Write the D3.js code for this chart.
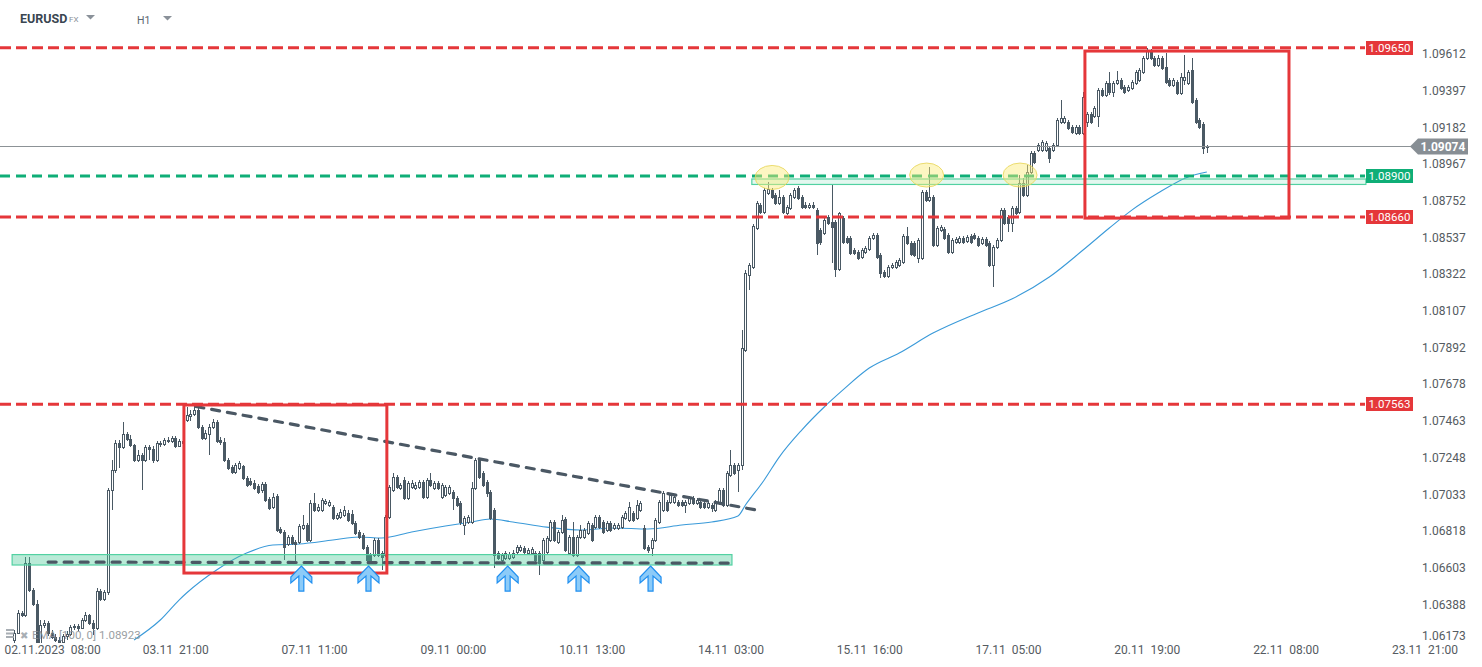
<!DOCTYPE html>
<html>
<head>
<meta charset="utf-8">
<script src="https://cdnjs.cloudflare.com/ajax/libs/d3/7.8.5/d3.min.js"></script>
<style>
  html, body { margin: 0; padding: 0; background: #fff; }
  svg { display: block; font-family: Roboto, "Noto Sans", sans-serif; }
</style>
</head>
<body>
<div id="chart"></div>
<script>
// EURUSD H1 candles, one value per hour
const opens = [
  1.06183, 1.06223, 1.06341, 1.06330, 1.06633, 1.06476, 1.06394, 1.06154, 1.06271, 1.06282,
  1.06223, 1.06200, 1.06183, 1.06171, 1.06206, 1.06218, 1.06259, 1.06265, 1.06253, 1.06300,
  1.06330, 1.06282, 1.06253, 1.06470, 1.06423, 1.06464, 1.07061, 1.07178, 1.07336, 1.07313,
  1.07389, 1.07360, 1.07325, 1.07237, 1.07266, 1.07237, 1.07313, 1.07301, 1.07237, 1.07336,
  1.07331, 1.07354, 1.07348, 1.07365, 1.07319, 1.07348, 1.07471, 1.07495, 1.07507, 1.07530,
  1.07430, 1.07365, 1.07389, 1.07430, 1.07459, 1.07354, 1.07342, 1.07237, 1.07196, 1.07166,
  1.07190, 1.07202, 1.07131, 1.07114, 1.07103, 1.07085, 1.07061, 1.07097, 1.07008, 1.06962,
  1.07026, 1.06833, 1.06815, 1.06745, 1.06786, 1.06757, 1.06757, 1.06839, 1.06856, 1.06768,
  1.06985, 1.06944, 1.06944, 1.06985, 1.06973, 1.06962, 1.06897, 1.06903, 1.06915, 1.06926,
  1.06921, 1.06868, 1.06815, 1.06798, 1.06727, 1.06680, 1.06680, 1.06768, 1.06692, 1.06680,
  1.06903, 1.07061, 1.07137, 1.07073, 1.07120, 1.07014, 1.07079, 1.07073, 1.07079, 1.07108,
  1.07020, 1.07120, 1.07073, 1.07103, 1.07020, 1.07032, 1.07044, 1.07049, 1.07014, 1.06985,
  1.06856, 1.06874, 1.06874, 1.07073, 1.07237, 1.07160, 1.07108, 1.07049, 1.06944, 1.06692,
  1.06651, 1.06663, 1.06663, 1.06669, 1.06698, 1.06710, 1.06721, 1.06692, 1.06692, 1.06692,
  1.06692, 1.06651, 1.06698, 1.06768, 1.06874, 1.06757, 1.06815, 1.06891, 1.06692, 1.06786,
  1.06680, 1.06786, 1.06786, 1.06809, 1.06856, 1.06845, 1.06903, 1.06874, 1.06827, 1.06868,
  1.06839, 1.06839, 1.06845, 1.06897, 1.06886, 1.06926, 1.06897, 1.06944, 1.06839, 1.06727,
  1.06721, 1.06768, 1.06874, 1.06944, 1.06991, 1.06991, 1.06991, 1.06991, 1.06991, 1.06973,
  1.06985, 1.07014, 1.06985, 1.06991, 1.06985, 1.06962, 1.06973, 1.06944, 1.06985, 1.07061,
  1.06973, 1.07149, 1.07208, 1.07178, 1.07208, 1.07881, 1.08320, 1.08367, 1.08595, 1.08730,
  1.08688, 1.08800, 1.08818, 1.08789, 1.08741, 1.08777, 1.08683, 1.08712, 1.08777, 1.08829,
  1.08777, 1.08730, 1.08718, 1.08730, 1.08700, 1.08583, 1.08565, 1.08659, 1.08630, 1.08630,
  1.08355, 1.08653, 1.08536, 1.08536, 1.08466, 1.08454, 1.08425, 1.08454, 1.08472, 1.08536,
  1.08554, 1.08437, 1.08337, 1.08314, 1.08367, 1.08367, 1.08379, 1.08396, 1.08548, 1.08507,
  1.08507, 1.08419, 1.08419, 1.08806, 1.08759, 1.08777, 1.08496, 1.08583, 1.08589, 1.08554,
  1.08454, 1.08513, 1.08513, 1.08536, 1.08519, 1.08548, 1.08554, 1.08536, 1.08507, 1.08531,
  1.08507, 1.08379, 1.08484, 1.08525, 1.08700, 1.08659, 1.08624, 1.08712, 1.08688, 1.08858,
  1.08789, 1.08923, 1.09034, 1.09052, 1.09052, 1.09052, 1.09063, 1.09052, 1.09081, 1.09215,
  1.09215, 1.09215, 1.09186, 1.09151, 1.09186, 1.09151, 1.09215, 1.09262, 1.09251, 1.09251,
  1.09403, 1.09374, 1.09444, 1.09391, 1.09444, 1.09462, 1.09421, 1.09403, 1.09415, 1.09444,
  1.09462, 1.09508, 1.09590, 1.09631, 1.09590, 1.09549, 1.09590, 1.09538, 1.09462, 1.09432,
  1.09450, 1.09386, 1.09462, 1.09444, 1.09520, 1.09345, 1.09227, 1.09204, 1.09069
];

const highs = [
  1.06241, 1.06359, 1.06353, 1.06669, 1.06669, 1.06487, 1.06417, 1.06300, 1.06300, 1.06294,
  1.06241, 1.06218, 1.06200, 1.06218, 1.06235, 1.06271, 1.06277, 1.06277, 1.06312, 1.06347,
  1.06335, 1.06300, 1.06487, 1.06481, 1.06476, 1.07073, 1.07237, 1.07354, 1.07354, 1.07459,
  1.07400, 1.07383, 1.07331, 1.07295, 1.07277, 1.07325, 1.07325, 1.07319, 1.07348, 1.07348,
  1.07365, 1.07371, 1.07377, 1.07377, 1.07360, 1.07365, 1.07547, 1.07530, 1.07553, 1.07553,
  1.07442, 1.07412, 1.07448, 1.07477, 1.07471, 1.07371, 1.07365, 1.07248, 1.07208, 1.07219,
  1.07231, 1.07208, 1.07143, 1.07131, 1.07120, 1.07097, 1.07108, 1.07108, 1.07020, 1.07044,
  1.07038, 1.06845, 1.06827, 1.06798, 1.06798, 1.06768, 1.06862, 1.06915, 1.06868, 1.07003,
  1.07044, 1.06979, 1.07014, 1.07008, 1.07003, 1.06973, 1.06926, 1.06950, 1.06968, 1.06944,
  1.06944, 1.06880, 1.06827, 1.06809, 1.06739, 1.06692, 1.06780, 1.06780, 1.06704, 1.06915,
  1.07091, 1.07160, 1.07149, 1.07103, 1.07137, 1.07114, 1.07120, 1.07108, 1.07120, 1.07120,
  1.07131, 1.07160, 1.07114, 1.07114, 1.07103, 1.07091, 1.07091, 1.07061, 1.07026, 1.06997,
  1.06909, 1.06915, 1.07108, 1.07248, 1.07248, 1.07172, 1.07120, 1.07061, 1.06956, 1.06704,
  1.06692, 1.06704, 1.06698, 1.06710, 1.06739, 1.06739, 1.06733, 1.06721, 1.06727, 1.06704,
  1.06704, 1.06780, 1.06792, 1.06886, 1.06886, 1.06827, 1.06915, 1.06903, 1.06798, 1.06874,
  1.06798, 1.06856, 1.06839, 1.06880, 1.06868, 1.06915, 1.06915, 1.06886, 1.06880, 1.06880,
  1.06868, 1.06868, 1.06915, 1.06938, 1.06991, 1.06938, 1.07003, 1.06997, 1.06856, 1.06739,
  1.06780, 1.06897, 1.07003, 1.07055, 1.07003, 1.07044, 1.07032, 1.07003, 1.07003, 1.07003,
  1.07026, 1.07026, 1.07014, 1.07003, 1.06997, 1.06997, 1.06985, 1.07003, 1.07073, 1.07073,
  1.07172, 1.07295, 1.07219, 1.07219, 1.07998, 1.08349, 1.08390, 1.08619, 1.08753, 1.08741,
  1.08829, 1.08864, 1.08829, 1.08800, 1.08818, 1.08789, 1.08730, 1.08800, 1.08829, 1.08841,
  1.08789, 1.08747, 1.08741, 1.08747, 1.08712, 1.08595, 1.08653, 1.08671, 1.08847, 1.08642,
  1.08688, 1.08665, 1.08548, 1.08548, 1.08478, 1.08466, 1.08478, 1.08490, 1.08548, 1.08565,
  1.08565, 1.08449, 1.08349, 1.08379, 1.08390, 1.08408, 1.08420, 1.08560, 1.08601, 1.08519,
  1.08519, 1.08536, 1.08818, 1.08818, 1.08952, 1.08789, 1.08607, 1.08613, 1.08601, 1.08565,
  1.08536, 1.08542, 1.08548, 1.08548, 1.08554, 1.08560, 1.08565, 1.08548, 1.08542, 1.08542,
  1.08519, 1.08496, 1.08536, 1.08712, 1.08712, 1.08671, 1.08724, 1.08724, 1.08906, 1.08888,
  1.08964, 1.09046, 1.09046, 1.09093, 1.09110, 1.09104, 1.09075, 1.09093, 1.09239, 1.09345,
  1.09251, 1.09227, 1.09198, 1.09198, 1.09198, 1.09391, 1.09274, 1.09274, 1.09309, 1.09415,
  1.09415, 1.09456, 1.09508, 1.09456, 1.09514, 1.09473, 1.09432, 1.09432, 1.09462, 1.09520,
  1.09532, 1.09602, 1.09649, 1.09643, 1.09602, 1.09608, 1.09602, 1.09620, 1.09473, 1.09473,
  1.09462, 1.09502, 1.09608, 1.09520, 1.09590, 1.09356, 1.09239, 1.09215, 1.09081
];

const lows = [
  1.06154, 1.06218, 1.06318, 1.06318, 1.06464, 1.06382, 1.06136, 1.06148, 1.06253, 1.06206,
  1.06188, 1.06171, 1.06148, 1.06154, 1.06183, 1.06206, 1.06241, 1.06235, 1.06247, 1.06288,
  1.06271, 1.06212, 1.06241, 1.06411, 1.06411, 1.06447, 1.06944, 1.07160, 1.07190, 1.07301,
  1.07348, 1.07313, 1.07225, 1.07225, 1.07061, 1.07225, 1.07237, 1.07219, 1.07225, 1.07313,
  1.07319, 1.07336, 1.07336, 1.07307, 1.07313, 1.07325, 1.07459, 1.07465, 1.07495, 1.07418,
  1.07354, 1.07354, 1.07266, 1.07418, 1.07336, 1.07325, 1.07225, 1.07178, 1.07155, 1.07155,
  1.07178, 1.07120, 1.07079, 1.07085, 1.07061, 1.07038, 1.07044, 1.06991, 1.06944, 1.06950,
  1.06815, 1.06804, 1.06651, 1.06733, 1.06739, 1.06639, 1.06745, 1.06827, 1.06757, 1.06757,
  1.06932, 1.06932, 1.06932, 1.06973, 1.06962, 1.06886, 1.06886, 1.06891, 1.06903, 1.06874,
  1.06856, 1.06798, 1.06774, 1.06710, 1.06639, 1.06633, 1.06669, 1.06669, 1.06593, 1.06669,
  1.06891, 1.07049, 1.07067, 1.07061, 1.07003, 1.07003, 1.07067, 1.07061, 1.07067, 1.07008,
  1.07008, 1.07079, 1.07061, 1.07061, 1.07008, 1.07020, 1.07032, 1.06944, 1.06962, 1.06856,
  1.06798, 1.06862, 1.06862, 1.07061, 1.07125, 1.07079, 1.07020, 1.06886, 1.06604, 1.06651,
  1.06639, 1.06651, 1.06651, 1.06657, 1.06686, 1.06698, 1.06686, 1.06680, 1.06680, 1.06639,
  1.06563, 1.06639, 1.06686, 1.06757, 1.06757, 1.06745, 1.06804, 1.06698, 1.06680, 1.06669,
  1.06669, 1.06774, 1.06774, 1.06798, 1.06757, 1.06833, 1.06833, 1.06804, 1.06815, 1.06815,
  1.06827, 1.06827, 1.06833, 1.06886, 1.06874, 1.06874, 1.06886, 1.06932, 1.06710, 1.06692,
  1.06674, 1.06757, 1.06862, 1.06932, 1.06932, 1.06979, 1.06979, 1.06962, 1.06962, 1.06926,
  1.06973, 1.06973, 1.06973, 1.06950, 1.06950, 1.06950, 1.06932, 1.06932, 1.06973, 1.06962,
  1.06962, 1.07137, 1.07149, 1.07049, 1.07178, 1.07869, 1.08232, 1.08355, 1.08583, 1.08677,
  1.08677, 1.08789, 1.08765, 1.08730, 1.08730, 1.08677, 1.08671, 1.08700, 1.08765, 1.08759,
  1.08706, 1.08706, 1.08706, 1.08706, 1.08437, 1.08496, 1.08554, 1.08613, 1.08390, 1.08308,
  1.08343, 1.08501, 1.08501, 1.08437, 1.08437, 1.08408, 1.08414, 1.08443, 1.08460, 1.08525,
  1.08414, 1.08302, 1.08302, 1.08302, 1.08355, 1.08355, 1.08367, 1.08385, 1.08496, 1.08431,
  1.08425, 1.08390, 1.08408, 1.08747, 1.08747, 1.08484, 1.08484, 1.08572, 1.08525, 1.08443,
  1.08443, 1.08501, 1.08501, 1.08501, 1.08507, 1.08501, 1.08525, 1.08484, 1.08496, 1.08484,
  1.08367, 1.08250, 1.08472, 1.08513, 1.08613, 1.08572, 1.08572, 1.08671, 1.08677, 1.08777,
  1.08777, 1.08911, 1.08970, 1.09040, 1.09040, 1.09040, 1.08975, 1.09040, 1.09069, 1.09204,
  1.09204, 1.09169, 1.09145, 1.09139, 1.09139, 1.09139, 1.09186, 1.09204, 1.09239, 1.09186,
  1.09362, 1.09362, 1.09374, 1.09362, 1.09432, 1.09403, 1.09380, 1.09391, 1.09403, 1.09432,
  1.09450, 1.09497, 1.09579, 1.09579, 1.09538, 1.09538, 1.09520, 1.09439, 1.09421, 1.09421,
  1.09374, 1.09374, 1.09432, 1.09432, 1.09321, 1.09204, 1.09174, 1.09029, 1.09034
];

const closes = [
  1.06223, 1.06341, 1.06330, 1.06633, 1.06476, 1.06394, 1.06154, 1.06271, 1.06282, 1.06223,
  1.06200, 1.06183, 1.06171, 1.06206, 1.06218, 1.06259, 1.06265, 1.06253, 1.06300, 1.06330,
  1.06282, 1.06253, 1.06470, 1.06423, 1.06464, 1.07061, 1.07178, 1.07336, 1.07313, 1.07389,
  1.07360, 1.07325, 1.07237, 1.07266, 1.07237, 1.07313, 1.07301, 1.07237, 1.07336, 1.07331,
  1.07354, 1.07348, 1.07365, 1.07319, 1.07348, 1.07336, 1.07501, 1.07507, 1.07530, 1.07430,
  1.07365, 1.07394, 1.07430, 1.07459, 1.07348, 1.07342, 1.07237, 1.07190, 1.07166, 1.07208,
  1.07219, 1.07131, 1.07091, 1.07097, 1.07073, 1.07049, 1.07097, 1.07003, 1.06956, 1.07020,
  1.06827, 1.06815, 1.06727, 1.06786, 1.06751, 1.06745, 1.06851, 1.06856, 1.06768, 1.06985,
  1.06944, 1.06962, 1.07003, 1.06997, 1.06991, 1.06897, 1.06915, 1.06932, 1.06944, 1.06886,
  1.06868, 1.06809, 1.06786, 1.06721, 1.06651, 1.06639, 1.06768, 1.06680, 1.06669, 1.06903,
  1.07079, 1.07137, 1.07079, 1.07091, 1.07014, 1.07103, 1.07103, 1.07091, 1.07108, 1.07020,
  1.07120, 1.07091, 1.07103, 1.07073, 1.07091, 1.07079, 1.07079, 1.07014, 1.06973, 1.06874,
  1.06897, 1.06903, 1.07073, 1.07237, 1.07137, 1.07091, 1.07044, 1.06897, 1.06680, 1.06663,
  1.06680, 1.06692, 1.06686, 1.06692, 1.06727, 1.06727, 1.06698, 1.06710, 1.06716, 1.06651,
  1.06633, 1.06768, 1.06780, 1.06874, 1.06768, 1.06815, 1.06886, 1.06710, 1.06786, 1.06680,
  1.06786, 1.06827, 1.06827, 1.06868, 1.06768, 1.06903, 1.06845, 1.06815, 1.06868, 1.06827,
  1.06856, 1.06856, 1.06903, 1.06926, 1.06962, 1.06886, 1.06973, 1.06985, 1.06721, 1.06710,
  1.06768, 1.06886, 1.06991, 1.07044, 1.06944, 1.07032, 1.07020, 1.06973, 1.06973, 1.06991,
  1.07014, 1.06985, 1.07003, 1.06962, 1.06962, 1.06985, 1.06956, 1.06991, 1.07061, 1.06973,
  1.07160, 1.07208, 1.07160, 1.07208, 1.07893, 1.08331, 1.08379, 1.08607, 1.08741, 1.08688,
  1.08818, 1.08823, 1.08777, 1.08741, 1.08777, 1.08688, 1.08718, 1.08789, 1.08818, 1.08771,
  1.08718, 1.08718, 1.08730, 1.08718, 1.08507, 1.08513, 1.08642, 1.08624, 1.08601, 1.08355,
  1.08683, 1.08513, 1.08513, 1.08449, 1.08449, 1.08419, 1.08466, 1.08478, 1.08536, 1.08554,
  1.08425, 1.08331, 1.08314, 1.08367, 1.08379, 1.08396, 1.08408, 1.08548, 1.08507, 1.08443,
  1.08437, 1.08525, 1.08806, 1.08759, 1.08777, 1.08496, 1.08595, 1.08601, 1.08536, 1.08454,
  1.08525, 1.08531, 1.08536, 1.08513, 1.08542, 1.08513, 1.08536, 1.08496, 1.08531, 1.08496,
  1.08379, 1.08484, 1.08525, 1.08700, 1.08624, 1.08624, 1.08712, 1.08683, 1.08858, 1.08789,
  1.08923, 1.09034, 1.08981, 1.09081, 1.09098, 1.09093, 1.09005, 1.09081, 1.09227, 1.09239,
  1.09239, 1.09180, 1.09157, 1.09186, 1.09151, 1.09362, 1.09262, 1.09215, 1.09298, 1.09403,
  1.09374, 1.09444, 1.09391, 1.09444, 1.09462, 1.09415, 1.09391, 1.09421, 1.09450, 1.09508,
  1.09520, 1.09590, 1.09637, 1.09590, 1.09549, 1.09590, 1.09532, 1.09450, 1.09432, 1.09462,
  1.09386, 1.09479, 1.09479, 1.09508, 1.09333, 1.09215, 1.09186, 1.09063, 1.09074
];

// EMA(100) as drawn, sampled at candle indices
const emaIndex = [32, 39, 44, 46, 54, 62, 69, 76, 85, 92, 98, 106, 115, 122, 127, 133, 142, 151, 160, 169,
  178, 186, 193, 195, 200, 204, 210, 216, 221, 228, 236, 245, 257, 266, 276, 285, 292, 298, 305, 313, 318];
const emaValues = [1.06183, 1.06300, 1.06417, 1.06458, 1.06593, 1.06692, 1.06739, 1.06745, 1.06768, 1.06786,
  1.06780, 1.06815, 1.06850, 1.06874, 1.06891, 1.06874, 1.06844, 1.06827, 1.06839, 1.06833,
  1.06856, 1.06874, 1.06909, 1.06973, 1.07120, 1.07254, 1.07412, 1.07547, 1.07647, 1.07775,
  1.07863, 1.07980, 1.08098, 1.08179, 1.08308, 1.08466, 1.08595, 1.08700, 1.08800, 1.08894, 1.08923];

const priceTicks = [1.06173, 1.06388, 1.06603, 1.06818, 1.07033, 1.07248, 1.07463, 1.07678, 1.07892,
  1.08107, 1.08322, 1.08537, 1.08752, 1.08967, 1.09182, 1.09397, 1.09612];

const timeTickIndex = [6, 43, 80, 117, 154, 191, 228, 265, 302, 339, 376];
const timeTickLabels = ['02.11.2023  08:00', '03.11  21:00', '07.11  11:00', '09.11  00:00', '10.11  13:00',
  '14.11  03:00', '15.11  16:00', '17.11  05:00', '20.11  19:00', '22.11  08:00', '23.11  21:00'];

// drawn annotations, in candle index / price units
const redLevels = [1.09650, 1.08660, 1.07563];
const greenLevel = 1.08900;
const redBoxStart = [45.3, 285.5];
const redBoxEnd = [99.4, 339.9];
const redBoxTop = [1.07559, 1.09631];
const redBoxBottom = [1.06575, 1.08653];
const zoneStart = [-0.5, 196.7];
const zoneEnd = [191.4, 360.4];
const zoneTop = [1.06683, 1.08882];
const zoneBottom = [1.06622, 1.08850];
const trendFrom = [[48.5, 1.07550], [9.1, 1.06639]];
const trendTo = [[198.9, 1.06940], [191.4, 1.06633]];
const touchIndex = [202.1, 243.3, 268.2];
const touchPrice = [1.08891, 1.08905, 1.08905];
const arrowIndex = [76.6, 94.5, 131.6, 150.5, 169.7];
const arrowPrice = 1.06616;


class CandleChart {
  constructor(container) {
    this.containerEl = d3.select(container);
    this.width = 1482;
    this.height = 667;
    this.plotRight = 1412;
    this.plotBottom = 643;
    this.candleColor = '#4a5964';
    this.red = '#e5373a';
    this.green = '#0fae77';
  }

  load() {
    this.createSvg();
    this.createScales();
    this.drawAxes();
    this.drawEma();
    this.drawCandles();
    this.drawLevels();
    this.drawAnnotations();
    this.drawTags();
    this.drawHeader();
  }

  createSvg() {
    this.svgEl = this.containerEl.append('svg')
      .attr('width', this.width)
      .attr('height', this.height);

    this.svgEl.append('defs').append('clipPath')
      .attr('id', 'plot-clip')
      .append('rect')
      .attr('x', 0).attr('y', 0)
      .attr('width', this.plotRight)
      .attr('height', this.plotBottom);

    this.plotEl = this.svgEl.append('g').attr('clip-path', 'url(#plot-clip)');
  }

  createScales() {
    this.x = d3.scaleLinear().domain([0, 376]).range([14, 1424.4]);
    this.y = d3.scaleLinear().domain([1.06173, 1.09612]).range([641.7, 54.3]);
  }

  drawAxes() {
    const priceAxis = d3.axisRight(this.y)
      .tickValues(priceTicks)
      .tickFormat(d3.format('.5f'))
      .tickSize(0)
      .tickPadding(3);

    const priceAxisEl = this.svgEl.append('g')
      .attr('transform', 'translate(1419,0)')
      .call(priceAxis);
    priceAxisEl.select('.domain').remove();
    priceAxisEl.selectAll('.tick')
      .attr('transform', d => `translate(0,${Math.min(this.y(d), 636)})`);
    this.styleAxisText(priceAxisEl);

    const timeAxis = d3.axisBottom(this.x)
      .tickValues(timeTickIndex)
      .tickFormat((d, i) => timeTickLabels[i])
      .tickSize(0)
      .tickPadding(3.5);

    const timeAxisEl = this.svgEl.append('g')
      .attr('transform', `translate(0,${this.plotBottom - 1})`)
      .call(timeAxis);
    timeAxisEl.select('.domain').remove();
    this.styleAxisText(timeAxisEl);
    timeAxisEl.selectAll('text')
      .style('white-space', 'pre')
      .each((d, i, nodes) => {
        // the first label is pushed inside the window
        const w = nodes[i].getComputedTextLength();
        const left = this.x(d) - w / 2;
        if (left < 4) d3.select(nodes[i]).attr('x', 4 - left);
      });
  }

  styleAxisText(axisEl) {
    axisEl.selectAll('text')
      .attr('fill', '#555b61')
      .attr('font-size', 12)
      .attr('font-family', 'Roboto, sans-serif');
  }

  drawEma() {
    const line = d3.line()
      .x((d, i) => this.x(emaIndex[i]))
      .y(d => this.y(d))
      .curve(d3.curveMonotoneX);

    this.plotEl.append('path')
      .attr('d', line(emaValues))
      .attr('fill', 'none')
      .attr('stroke', '#3a9ad9')
      .attr('stroke-width', 1.1);

    const legend = this.svgEl.append('g').attr('opacity', 0.85);
    [629, 632.5, 636].forEach(yy => {
      legend.append('rect')
        .attr('x', 6).attr('y', yy)
        .attr('width', 8).attr('height', 2)
        .attr('fill', '#9aa1a7');
    });
    legend.append('text')
      .text('✖')
      .attr('x', 20).attr('y', 639)
      .attr('font-size', 10)
      .attr('fill', '#9aa1a7');
    legend.append('text')
      .text('EMA [100, 0] 1.08923')
      .attr('x', 32).attr('y', 639)
      .attr('font-size', 11.5)
      .attr('fill', '#8a8f94');
  }

  drawCandles() {
    const candles = closes.map((c, i) => ({ i, o: opens[i], h: highs[i], l: lows[i], c }));

    const groups = this.plotEl.append('g').selectAll('g.candle')
      .data(candles)
      .enter()
      .append('g')
      .classed('candle', true);

    groups.append('line')
      .attr('x1', d => Math.round(this.x(d.i)) + 0.5)
      .attr('x2', d => Math.round(this.x(d.i)) + 0.5)
      .attr('y1', d => Math.round(this.y(d.h)))
      .attr('y2', d => Math.round(this.y(d.l)))
      .attr('stroke', this.candleColor)
      .attr('stroke-width', 1);

    groups.append('rect')
      .attr('x', d => Math.round(this.x(d.i)) - 0.5)
      .attr('width', 2)
      .attr('y', d => Math.round(this.y(Math.max(d.o, d.c))) + 0.5)
      .attr('height', d => Math.max(1,
        Math.round(this.y(Math.min(d.o, d.c))) - Math.round(this.y(Math.max(d.o, d.c)))))
      .attr('fill', d => d.c >= d.o ? '#ffffff' : this.candleColor)
      .attr('stroke', this.candleColor)
      .attr('stroke-width', 1);
  }

  drawLevels() {
    const levelsEl = this.svgEl.append('g');

    levelsEl.append('line')
      .attr('x1', 0).attr('x2', 1411)
      .attr('y1', Math.round(this.y(closes[closes.length - 1])) + 0.5)
      .attr('y2', Math.round(this.y(closes[closes.length - 1])) + 0.5)
      .attr('stroke', '#8c9296')
      .attr('stroke-width', 1);

    redLevels.forEach(p => {
      levelsEl.append('line')
        .attr('x1', 0).attr('x2', 1365)
        .attr('y1', this.y(p)).attr('y2', this.y(p))
        .attr('stroke', this.red)
        .attr('stroke-width', 3)
        .attr('stroke-dasharray', '11,5');
    });

    levelsEl.append('line')
      .attr('x1', 0).attr('x2', 1365)
      .attr('y1', this.y(greenLevel)).attr('y2', this.y(greenLevel))
      .attr('stroke', this.green)
      .attr('stroke-width', 3)
      .attr('stroke-dasharray', '10,6');
  }

  drawAnnotations() {
    const annEl = this.svgEl.append('g');

    // support / resistance zones
    zoneStart.forEach((s, i) => {
      annEl.append('rect')
        .attr('x', this.x(s))
        .attr('y', this.y(zoneTop[i]))
        .attr('width', this.x(zoneEnd[i]) - this.x(s))
        .attr('height', this.y(zoneBottom[i]) - this.y(zoneTop[i]))
        .attr('fill', i === 0 ? 'rgba(70, 200, 150, 0.38)' : 'rgba(70, 200, 150, 0.15)')
        .attr('stroke', '#52d1a2')
        .attr('stroke-width', 1.2);
    });

    // dashed trend lines
    trendFrom.forEach((from, i) => {
      annEl.append('line')
        .attr('x1', this.x(from[0])).attr('y1', this.y(from[1]))
        .attr('x2', this.x(trendTo[i][0])).attr('y2', this.y(trendTo[i][1]))
        .attr('stroke', '#4b5864')
        .attr('stroke-width', 3.2)
        .attr('stroke-linecap', 'round')
        .attr('stroke-dasharray', '8,8');
    });

    // red boxes
    redBoxStart.forEach((s, i) => {
      annEl.append('rect')
        .attr('x', this.x(s))
        .attr('y', this.y(redBoxTop[i]))
        .attr('width', this.x(redBoxEnd[i]) - this.x(s))
        .attr('height', this.y(redBoxBottom[i]) - this.y(redBoxTop[i]))
        .attr('fill', 'none')
        .attr('stroke', this.red)
        .attr('stroke-width', 3);
    });

    // touches of 1.0890
    touchIndex.forEach((idx, i) => {
      annEl.append('ellipse')
        .attr('cx', this.x(idx))
        .attr('cy', this.y(touchPrice[i]))
        .attr('rx', 17).attr('ry', 12)
        .attr('fill', 'rgba(250, 236, 120, 0.45)')
        .attr('stroke', 'rgba(232, 214, 90, 0.85)')
        .attr('stroke-width', 1);
    });

    // up arrows under the support
    const arrowPath = 'M0,0 L10.5,11 L10.5,17 L2.5,10 L2.5,25 L-2.5,25 L-2.5,10 L-10.5,17 L-10.5,11 Z';
    arrowIndex.forEach(idx => {
      annEl.append('path')
        .attr('d', arrowPath)
        .attr('transform', `translate(${this.x(idx)},${this.y(arrowPrice)})`)
        .attr('fill', '#8ccbf8')
        .attr('stroke', '#1f8ff0')
        .attr('stroke-width', 1.2)
        .attr('stroke-linejoin', 'miter');
    });
  }

  drawTags() {
    const tagsEl = this.svgEl.append('g');
    const tag = (price, color) => {
      const yy = Math.round(this.y(price));
      tagsEl.append('rect')
        .attr('x', 1366).attr('y', yy - 7)
        .attr('width', 47).attr('height', 14)
        .attr('fill', color);
      tagsEl.append('text')
        .text(d3.format('.5f')(price))
        .attr('x', 1389.5).attr('y', yy)
        .attr('dy', '0.36em')
        .attr('text-anchor', 'middle')
        .attr('fill', '#fff')
        .attr('font-size', 11.5);
    };
    redLevels.forEach(p => tag(p, this.red));
    tag(greenLevel, this.green);

    const last = closes[closes.length - 1];
    const ly = Math.round(this.y(last)) + 0.5;
    tagsEl.append('path')
      .attr('d', `M1410,${ly} L1418,${ly - 8} L1468,${ly - 8} L1468,${ly + 8} L1418,${ly + 8} Z`)
      .attr('fill', '#878e94');
    tagsEl.append('text')
      .text(d3.format('.5f')(last))
      .attr('x', 1443).attr('y', ly)
      .attr('dy', '0.36em')
      .attr('text-anchor', 'middle')
      .attr('fill', '#fff')
      .attr('font-weight', 'bold')
      .attr('font-size', 12);
  }

  drawHeader() {
    const headEl = this.svgEl.append('g');
    headEl.append('text')
      .text('EURUSD')
      .attr('x', 20).attr('y', 23)
      .attr('font-size', 12.5)
      .attr('font-weight', 'bold')
      .attr('fill', '#3a4651');
    headEl.append('text')
      .text('FX')
      .attr('x', 69).attr('y', 22)
      .attr('font-size', 8)
      .attr('fill', '#8a9199');
    headEl.append('text')
      .text('H1')
      .attr('x', 137).attr('y', 24)
      .attr('font-size', 10.5)
      .attr('fill', '#5b6670');
    [[86, 15], [163, 16]].forEach(([tx, ty]) => {
      headEl.append('path')
        .attr('d', `M${tx},${ty} L${tx + 9},${ty} L${tx + 4.5},${ty + 4.5} Z`)
        .attr('fill', '#8a9199');
    });
  }
}


const chart = new CandleChart('#chart');
chart.load();
</script>
</body>
</html>
